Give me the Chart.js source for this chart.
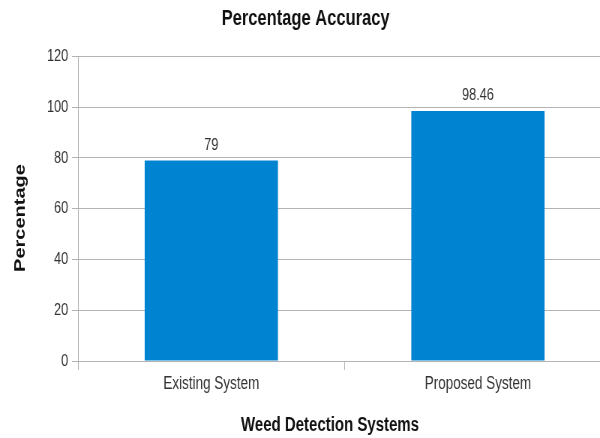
<!DOCTYPE html>
<html>
<head>
<meta charset="utf-8">
<script src="https://cdn.jsdelivr.net/npm/chart.js@4"></script>
<style>
    html, body { margin: 0; padding: 0; background: #ffffff; overflow: hidden; }
    /* the original picture is squeezed sideways, so draw wide and compress */
    #wrap {
        position: relative;
        width: 815px;
        height: 438px;
        transform: scaleX(0.75);
        transform-origin: 0 0;
    }
</style>
</head>
<body>
<div id="wrap"><canvas id="chart"></canvas></div>
<script>
const categories = ['Existing System', 'Proposed System'];
const accuracy = [79, 98.46];
const yTicks = [0, 20, 40, 60, 80, 100, 120];

const sans = '"Liberation Sans", Arial, sans-serif';
const gridColor = '#b3b3b3';
const textColor = '#333333';

// value labels above each bar
const barLabels = {
    id: 'barLabels',
    afterDatasetsDraw(chart) {
        const ctx = chart.ctx;
        const meta = chart.getDatasetMeta(0);
        ctx.save();
        ctx.font = '17px ' + sans;
        ctx.fillStyle = textColor;
        ctx.textAlign = 'center';
        ctx.textBaseline = 'bottom';
        meta.data.forEach((bar, i) => {
            ctx.fillText(String(accuracy[i]), bar.x, bar.y - 7);
        });
        ctx.restore();
    }
};

// axis titles sit a little off-centre in the original, so place them by hand
const axisTitles = {
    id: 'axisTitles',
    afterDraw(chart) {
        const ctx = chart.ctx;
        ctx.save();
        ctx.fillStyle = '#111111';
        ctx.font = 'bold 20px ' + sans;
        ctx.textAlign = 'center';
        ctx.textBaseline = 'middle';
        ctx.fillText('Weed Detection Systems', 440, 425);
        ctx.translate(27, 218);
        ctx.rotate(-Math.PI / 2);
        ctx.fillText('Percentage', 0, 0);
        ctx.restore();
    }
};

new Chart(document.getElementById('chart').getContext('2d'), {
    type: 'bar',
    data: {
        labels: categories,
        datasets: [{
            data: accuracy,
            backgroundColor: '#0084d1',
            borderWidth: 0,
            barPercentage: 0.5,
            categoryPercentage: 1.0
        }]
    },
    options: {
        responsive: true,
        maintainAspectRatio: false,
        animation: false,
        layout: { padding: 0 },
        plugins: {
            legend: { display: false },
            tooltip: { enabled: false },
            title: {
                display: true,
                text: 'Percentage Accuracy',
                color: '#111111',
                font: { family: sans, size: 22, weight: 'bold' },
                padding: { top: 6, bottom: 24 }
            }
        },
        scales: {
            x: {
                grid: {
                    color: gridColor,
                    drawOnChartArea: false,
                    tickLength: 9,
                    offset: true
                },
                border: { color: gridColor },
                ticks: {
                    color: textColor,
                    font: { family: sans, size: 18 },
                    padding: 3
                },
                afterFit(scale) { scale.height = 77; }
            },
            y: {
                min: 0,
                max: 120,
                afterBuildTicks(scale) {
                    scale.ticks = yTicks.map(v => ({ value: v }));
                },
                grid: {
                    color: gridColor,
                    tickLength: 8
                },
                border: { color: gridColor },
                ticks: {
                    color: textColor,
                    font: { family: sans, size: 17 },
                    padding: 5
                },
                afterFit(scale) { scale.width = 104; }
            }
        }
    },
    plugins: [barLabels, axisTitles]
});
</script>
</body>
</html>
